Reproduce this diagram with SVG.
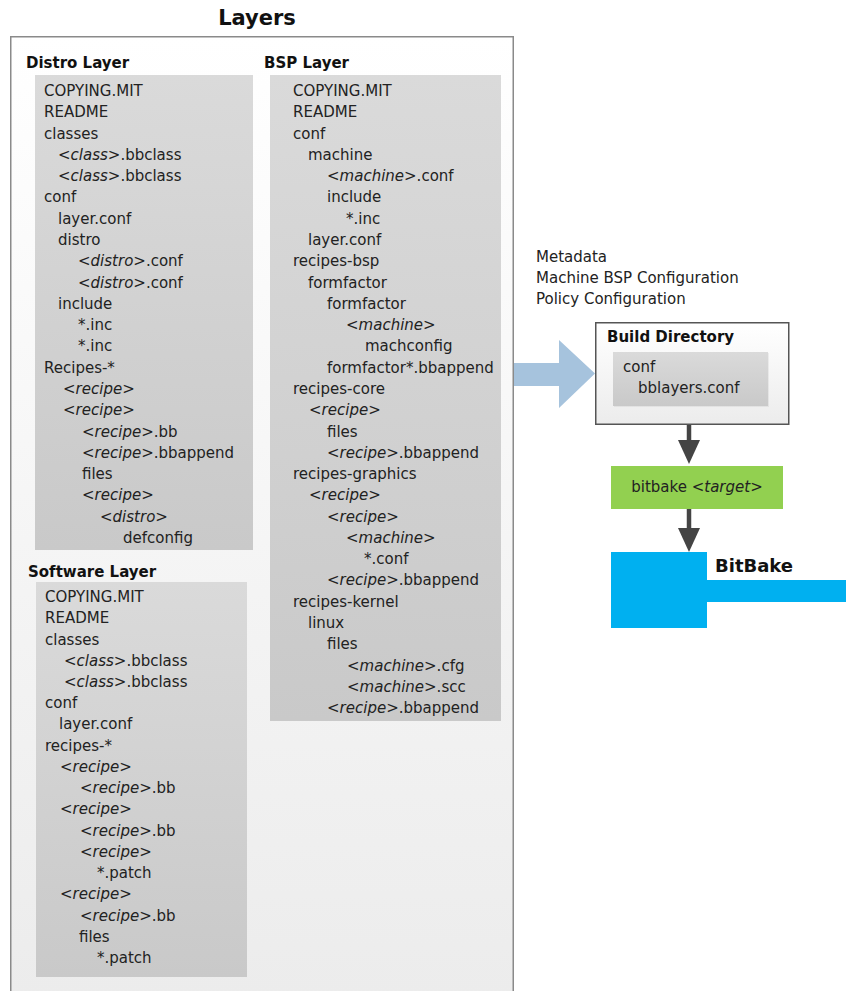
<svg xmlns="http://www.w3.org/2000/svg" width="846" height="991" viewBox="0 0 846 991">
<defs>
<linearGradient id="gOuter" x1="0" y1="0" x2="0" y2="1"><stop offset="0" stop-color="#ffffff"/><stop offset="1" stop-color="#ececec"/></linearGradient>
<linearGradient id="gBox" x1="0" y1="0" x2="0" y2="1"><stop offset="0" stop-color="#dadada"/><stop offset="1" stop-color="#c9c9c9"/></linearGradient>
<linearGradient id="gBuild" x1="0" y1="0" x2="0" y2="1"><stop offset="0" stop-color="#ffffff"/><stop offset="1" stop-color="#ececec"/></linearGradient>
<marker id="ah" viewBox="0 0 24 22" refX="0" refY="11" markerWidth="24" markerHeight="22" markerUnits="userSpaceOnUse" orient="auto">
<path d="M0,0 L24,11 L0,22 Z" fill="#444"/>
</marker>
<style>
.t{font-family:"DejaVu Sans","Noto Sans",sans-serif;font-size:15px;fill:#222}
.b{font-family:"DejaVu Sans","Noto Sans",sans-serif;font-weight:bold;font-size:15px;fill:#111}
.i{font-style:italic}
.box{fill:url(#gBox)}
</style>
</defs>
<rect width="846" height="991" fill="#ffffff"/>

<g id="layers">
<rect x="10" y="36" width="504" height="960" fill="url(#gOuter)"/>
<path d="M10.75,991 V36.75 H513.25 V991" fill="none" stroke="#8a8a8a" stroke-width="1.5"/>
<text x="257" y="25" text-anchor="middle" font-family="DejaVu Sans, sans-serif" font-weight="bold" font-size="21" fill="#111">Layers</text>
</g>

<g id="distro-layer">
<text class="b" x="26" y="68">Distro Layer</text>
<rect class="box" x="35" y="75" width="218" height="475"/>
<text class="t">
<tspan x="44" y="96">COPYING.MIT</tspan>
<tspan x="44" y="117.3">README</tspan>
<tspan x="44" y="138.6">classes</tspan>
<tspan x="58" y="159.8">&lt;<tspan class="i">class</tspan>&gt;.bbclass</tspan>
<tspan x="58" y="181.1">&lt;<tspan class="i">class</tspan>&gt;.bbclass</tspan>
<tspan x="44" y="202.4">conf</tspan>
<tspan x="58" y="223.7">layer.conf</tspan>
<tspan x="58" y="245">distro</tspan>
<tspan x="78" y="266.2">&lt;<tspan class="i">distro</tspan>&gt;.conf</tspan>
<tspan x="78" y="287.5">&lt;<tspan class="i">distro</tspan>&gt;.conf</tspan>
<tspan x="58" y="308.8">include</tspan>
<tspan x="78" y="330.1">*.inc</tspan>
<tspan x="78" y="351.4">*.inc</tspan>
<tspan x="44" y="372.6">Recipes-*</tspan>
<tspan x="63" y="393.9">&lt;<tspan class="i">recipe</tspan>&gt;</tspan>
<tspan x="63" y="415.2">&lt;<tspan class="i">recipe</tspan>&gt;</tspan>
<tspan x="82" y="436.5">&lt;<tspan class="i">recipe</tspan>&gt;.bb</tspan>
<tspan x="82" y="457.8">&lt;<tspan class="i">recipe</tspan>&gt;.bbappend</tspan>
<tspan x="82" y="479">files</tspan>
<tspan x="82" y="500.3">&lt;<tspan class="i">recipe</tspan>&gt;</tspan>
<tspan x="100" y="521.6">&lt;<tspan class="i">distro</tspan>&gt;</tspan>
<tspan x="123" y="542.9">defconfig</tspan>
</text>
</g>

<g id="bsp-layer">
<text class="b" x="264" y="68">BSP Layer</text>
<rect class="box" x="270" y="75" width="231" height="646"/>
<text class="t">
<tspan x="293" y="96">COPYING.MIT</tspan>
<tspan x="293" y="117.3">README</tspan>
<tspan x="293" y="138.6">conf</tspan>
<tspan x="308" y="159.8">machine</tspan>
<tspan x="327" y="181.1">&lt;<tspan class="i">machine</tspan>&gt;.conf</tspan>
<tspan x="327" y="202.4">include</tspan>
<tspan x="346" y="223.7">*.inc</tspan>
<tspan x="308" y="245">layer.conf</tspan>
<tspan x="293" y="266.2">recipes-bsp</tspan>
<tspan x="308" y="287.5">formfactor</tspan>
<tspan x="327" y="308.8">formfactor</tspan>
<tspan x="346" y="330.1">&lt;<tspan class="i">machine</tspan>&gt;</tspan>
<tspan x="365" y="351.4">machconfig</tspan>
<tspan x="327" y="372.6">formfactor*.bbappend</tspan>
<tspan x="293" y="393.9">recipes-core</tspan>
<tspan x="309" y="415.2">&lt;<tspan class="i">recipe</tspan>&gt;</tspan>
<tspan x="327" y="436.5">files</tspan>
<tspan x="327" y="457.8">&lt;<tspan class="i">recipe</tspan>&gt;.bbappend</tspan>
<tspan x="293" y="479">recipes-graphics</tspan>
<tspan x="309" y="500.3">&lt;<tspan class="i">recipe</tspan>&gt;</tspan>
<tspan x="327" y="521.6">&lt;<tspan class="i">recipe</tspan>&gt;</tspan>
<tspan x="346" y="542.9">&lt;<tspan class="i">machine</tspan>&gt;</tspan>
<tspan x="364" y="564.2">*.conf</tspan>
<tspan x="327" y="585.4">&lt;<tspan class="i">recipe</tspan>&gt;.bbappend</tspan>
<tspan x="293" y="606.7">recipes-kernel</tspan>
<tspan x="308" y="628">linux</tspan>
<tspan x="327" y="649.3">files</tspan>
<tspan x="347" y="670.6">&lt;<tspan class="i">machine</tspan>&gt;.cfg</tspan>
<tspan x="347" y="691.8">&lt;<tspan class="i">machine</tspan>&gt;.scc</tspan>
<tspan x="327" y="713.1">&lt;<tspan class="i">recipe</tspan>&gt;.bbappend</tspan>
</text>
</g>

<g id="software-layer">
<text class="b" x="28" y="577">Software Layer</text>
<rect class="box" x="36" y="582" width="211" height="395"/>
<text class="t">
<tspan x="45" y="602">COPYING.MIT</tspan>
<tspan x="45" y="623.2">README</tspan>
<tspan x="45" y="644.5">classes</tspan>
<tspan x="64" y="665.7">&lt;<tspan class="i">class</tspan>&gt;.bbclass</tspan>
<tspan x="64" y="687">&lt;<tspan class="i">class</tspan>&gt;.bbclass</tspan>
<tspan x="45" y="708.2">conf</tspan>
<tspan x="59" y="729.4">layer.conf</tspan>
<tspan x="45" y="750.7">recipes-*</tspan>
<tspan x="60" y="771.9">&lt;<tspan class="i">recipe</tspan>&gt;</tspan>
<tspan x="80" y="793.2">&lt;<tspan class="i">recipe</tspan>&gt;.bb</tspan>
<tspan x="60" y="814.4">&lt;<tspan class="i">recipe</tspan>&gt;</tspan>
<tspan x="80" y="835.6">&lt;<tspan class="i">recipe</tspan>&gt;.bb</tspan>
<tspan x="80" y="856.9">&lt;<tspan class="i">recipe</tspan>&gt;</tspan>
<tspan x="97" y="878.1">*.patch</tspan>
<tspan x="60" y="899.4">&lt;<tspan class="i">recipe</tspan>&gt;</tspan>
<tspan x="80" y="920.6">&lt;<tspan class="i">recipe</tspan>&gt;.bb</tspan>
<tspan x="79" y="941.8">files</tspan>
<tspan x="97" y="963.1">*.patch</tspan>
</text>
</g>

<g id="config-labels">
<text class="t">
<tspan x="536" y="262">Metadata</tspan>
<tspan x="536" y="283">Machine BSP Configuration</tspan>
<tspan x="536" y="304">Policy Configuration</tspan>
</text>
</g>

<g id="connectors">
<path d="M514,363 H559 V340 L595,373.5 L559,408 V386 H514 Z" fill="#a6c3dd"/>
<line x1="689" y1="425" x2="689" y2="440" stroke="#444" stroke-width="4.5" marker-end="url(#ah)"/>
<line x1="689" y1="509" x2="689" y2="528" stroke="#444" stroke-width="4.5" marker-end="url(#ah)"/>
</g>

<g id="build-directory">
<rect x="595.75" y="322.75" width="193" height="101.5" fill="url(#gBuild)" stroke="#555" stroke-width="1.5"/>
<text class="b" x="607" y="342">Build Directory</text>
<rect x="614" y="353" width="155" height="54" fill="#000" opacity="0.05"/>
<rect class="box" x="613" y="352" width="155" height="54"/>
<text class="t">
<tspan x="623" y="372">conf</tspan>
<tspan x="638" y="393">bblayers.conf</tspan>
</text>
</g>

<g id="bitbake-target">
<rect x="611" y="466" width="172" height="43" fill="#92d050"/>
<text class="t" x="697" y="492" text-anchor="middle">bitbake &lt;<tspan class="i">target</tspan>&gt;</text>
</g>

<g id="bitbake">
<path d="M611,552 H707 V580 H846 V602 H707 V628 H611 Z" fill="#00b0f0"/>
<text x="715" y="572" font-family="DejaVu Sans, sans-serif" font-weight="bold" font-size="18" fill="#111">BitBake</text>
</g>
</svg>
